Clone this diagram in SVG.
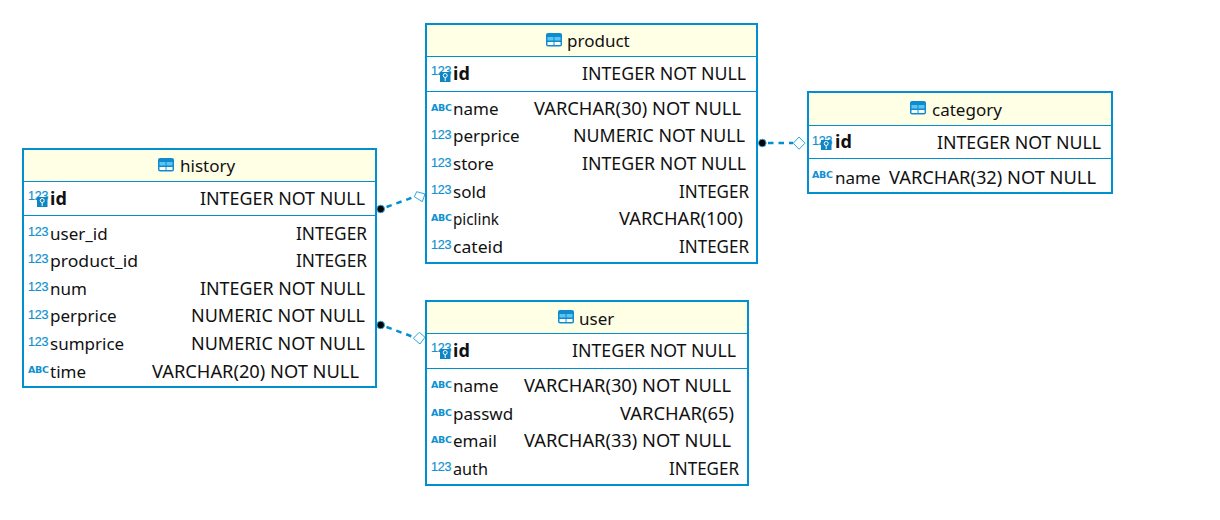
<svg xmlns="http://www.w3.org/2000/svg" xmlns:xlink="http://www.w3.org/1999/xlink" width="1220" height="520" viewBox="0 0 1220 520">
<style>
text{font-family:"Noto Sans","Liberation Sans",sans-serif;font-size:17px;fill:#111}
.b{font-weight:700;font-size:18px}
.t{font-size:17.500px}
.i{font-family:"Liberation Sans",sans-serif;font-size:12.500px;letter-spacing:-.2px;fill:#0f92d0;stroke:#0f92d0;stroke-width:.2}
.a{font-family:"DejaVu Sans",sans-serif;font-size:9.500px;font-weight:700;letter-spacing:-.3px;fill:#0f92d0}
.box{fill:#fff;stroke:#0090d0;stroke-width:2}
.head{fill:#ffffe6;stroke:none}
.sep{stroke:#0090d0;stroke-width:1;fill:none}
.con{stroke:#0090d0;stroke-width:2.500;stroke-dasharray:5.500 5;fill:none}
.dia{fill:#fff;stroke:#2ea6dc;stroke-width:1}
.dot{fill:#000;stroke:#2ea6dc;stroke-width:1}
.k{fill:#0f86c4}
</style>
<defs>
<g id="tbl"><rect x="0" y="0" width="16" height="13.500" rx="2" fill="#0f8cd0"/><rect x="1.500" y="4" width="6" height="3.500" fill="#5cc4f0"/><rect x="8.500" y="4" width="6" height="3.500" fill="#5cc4f0"/><rect x="1.500" y="9" width="6" height="3" fill="#fff"/><rect x="8.500" y="9" width="6" height="3" fill="#fff"/></g>
<g id="key"><rect x="0" y="0" width="10.500" height="10" class="k"/><circle cx="5.200" cy="3.500" r="2" fill="none" stroke="#fff" stroke-width="1"/><path d="M5.200 5.500V9" stroke="#fff" stroke-width="1"/></g>
</defs>
<g id="connectors">
<path class="con" d="M386.500 207L414 197"/>
<path class="con" d="M386.500 327L413.500 337"/>
<path class="con" d="M768 143H793"/>
<path class="dia" d="M414.300 196.700L416.700 191.700L425 194L422.300 201.700Z"/>
<path class="dia" d="M413.300 338.300L419.300 332.300L425 337.300L420 344Z"/>
<path class="dia" d="M793.300 143.200L799 137L805 143.200L799 149.300Z"/>
<circle class="dot" cx="380.700" cy="209" r="3.800"/>
<circle class="dot" cx="380.700" cy="325" r="3.800"/>
<circle class="dot" cx="762.300" cy="143" r="3.800"/>
</g>
<g id="product">
<rect class="box" x="426" y="24" width="331" height="239"/><rect class="head" x="427" y="25" width="329" height="31"/>
<path class="sep" d="M427 56.500H756M427 91.500H756"/>
<use xlink:href="#tbl" href="#tbl" x="546" y="33"/>
<text x="567" y="47">product</text>
<text class="i" x="431" y="75">123</text><use xlink:href="#key" href="#key" x="440" y="72"/>
<text class="b" x="453" y="80">id</text><text class="t" lengthAdjust="spacingAndGlyphs" x="582" y="80" textLength="164">INTEGER NOT NULL</text>
<text class="a" x="431" y="111">ABC</text><text x="453" y="114.500">name</text><text class="t" lengthAdjust="spacingAndGlyphs" x="534" y="114.500" textLength="207">VARCHAR(30) NOT NULL</text>
<text class="i" x="431" y="139">123</text><text x="453" y="141.500">perprice</text><text class="t" lengthAdjust="spacingAndGlyphs" x="573" y="141.500" textLength="172">NUMERIC NOT NULL</text>
<text class="i" x="431" y="167">123</text><text x="453" y="169.500">store</text><text class="t" lengthAdjust="spacingAndGlyphs" x="582" y="169.500" textLength="164">INTEGER NOT NULL</text>
<text class="i" x="431" y="194">123</text><text x="453" y="197.500">sold</text><text class="t" lengthAdjust="spacingAndGlyphs" x="679" y="197.500" textLength="70">INTEGER</text>
<text class="a" x="431" y="221">ABC</text><text lengthAdjust="spacingAndGlyphs" x="453" y="224.500" textLength="46">piclink</text><text class="t" lengthAdjust="spacingAndGlyphs" x="619" y="224.500" textLength="124">VARCHAR(100)</text>
<text class="i" x="431" y="249">123</text><text lengthAdjust="spacingAndGlyphs" x="453" y="252.500" textLength="50">cateid</text><text class="t" lengthAdjust="spacingAndGlyphs" x="679" y="252.500" textLength="70">INTEGER</text>
</g>
<g id="category">
<rect class="box" x="808" y="92" width="304" height="101"/><rect class="head" x="809" y="93" width="302" height="32"/>
<path class="sep" d="M809 125.500H1111M809 158.500H1111"/>
<use xlink:href="#tbl" href="#tbl" x="910" y="101"/>
<text x="932" y="116">category</text>
<text class="i" x="812" y="145">123</text><use xlink:href="#key" href="#key" x="821" y="140"/>
<text class="b" x="835" y="148">id</text><text class="t" lengthAdjust="spacingAndGlyphs" x="937" y="149" textLength="164">INTEGER NOT NULL</text>
<text class="a" x="812" y="178">ABC</text><text x="835" y="183.500">name</text><text class="t" lengthAdjust="spacingAndGlyphs" x="889" y="183.500" textLength="207">VARCHAR(32) NOT NULL</text>
</g>
<g id="history">
<rect class="box" x="23" y="149" width="353" height="238"/><rect class="head" x="24" y="150" width="351" height="31"/>
<path class="sep" d="M24 181.500H375M24 215.500H375"/>
<use xlink:href="#tbl" href="#tbl" x="158" y="158"/>
<text x="180" y="172">history</text>
<text class="i" x="28" y="200">123</text><use xlink:href="#key" href="#key" x="37" y="197"/>
<text class="b" x="50" y="205">id</text><text class="t" lengthAdjust="spacingAndGlyphs" x="200" y="205" textLength="165">INTEGER NOT NULL</text>
<text class="i" x="28" y="236">123</text><text x="50" y="239.500">user_id</text><text class="t" lengthAdjust="spacingAndGlyphs" x="296" y="239.500" textLength="71">INTEGER</text>
<text class="i" x="28" y="263">123</text><text lengthAdjust="spacingAndGlyphs" x="50" y="266.500" textLength="88">product_id</text><text class="t" lengthAdjust="spacingAndGlyphs" x="296" y="266.500" textLength="71">INTEGER</text>
<text class="i" x="28" y="291">123</text><text x="50" y="294.500">num</text><text class="t" lengthAdjust="spacingAndGlyphs" x="200" y="294.500" textLength="165">INTEGER NOT NULL</text>
<text class="i" x="28" y="319">123</text><text x="50" y="321.500">perprice</text><text class="t" lengthAdjust="spacingAndGlyphs" x="191" y="321.500" textLength="174">NUMERIC NOT NULL</text>
<text class="i" x="28" y="346">123</text><text x="50" y="349.500">sumprice</text><text class="t" lengthAdjust="spacingAndGlyphs" x="191" y="349.500" textLength="174">NUMERIC NOT NULL</text>
<text class="a" x="28" y="373">ABC</text><text x="50" y="377.500">time</text><text class="t" lengthAdjust="spacingAndGlyphs" x="152" y="377.500" textLength="207">VARCHAR(20) NOT NULL</text>
</g>
<g id="user">
<rect class="box" x="426" y="301" width="322" height="184"/><rect class="head" x="427" y="302" width="320" height="31"/>
<path class="sep" d="M427 333.500H747M427 368.500H747"/>
<use xlink:href="#tbl" href="#tbl" x="558" y="310"/>
<text x="579" y="325">user</text>
<text class="i" x="431" y="352">123</text><use xlink:href="#key" href="#key" x="440" y="349"/>
<text class="b" x="453" y="357">id</text><text class="t" lengthAdjust="spacingAndGlyphs" x="572" y="357" textLength="164">INTEGER NOT NULL</text>
<text class="a" x="431" y="388">ABC</text><text x="453" y="391.500">name</text><text class="t" lengthAdjust="spacingAndGlyphs" x="524" y="391.500" textLength="207">VARCHAR(30) NOT NULL</text>
<text class="a" x="431" y="416">ABC</text><text x="453" y="419.500">passwd</text><text class="t" lengthAdjust="spacingAndGlyphs" x="620" y="419.500" textLength="114">VARCHAR(65)</text>
<text class="a" x="431" y="443">ABC</text><text x="453" y="446.500">email</text><text class="t" lengthAdjust="spacingAndGlyphs" x="524" y="446.500" textLength="207">VARCHAR(33) NOT NULL</text>
<text class="i" x="431" y="471">123</text><text lengthAdjust="spacingAndGlyphs" x="453" y="474.500" textLength="35">auth</text><text class="t" lengthAdjust="spacingAndGlyphs" x="669" y="474.500" textLength="70">INTEGER</text>
</g>
</svg>
